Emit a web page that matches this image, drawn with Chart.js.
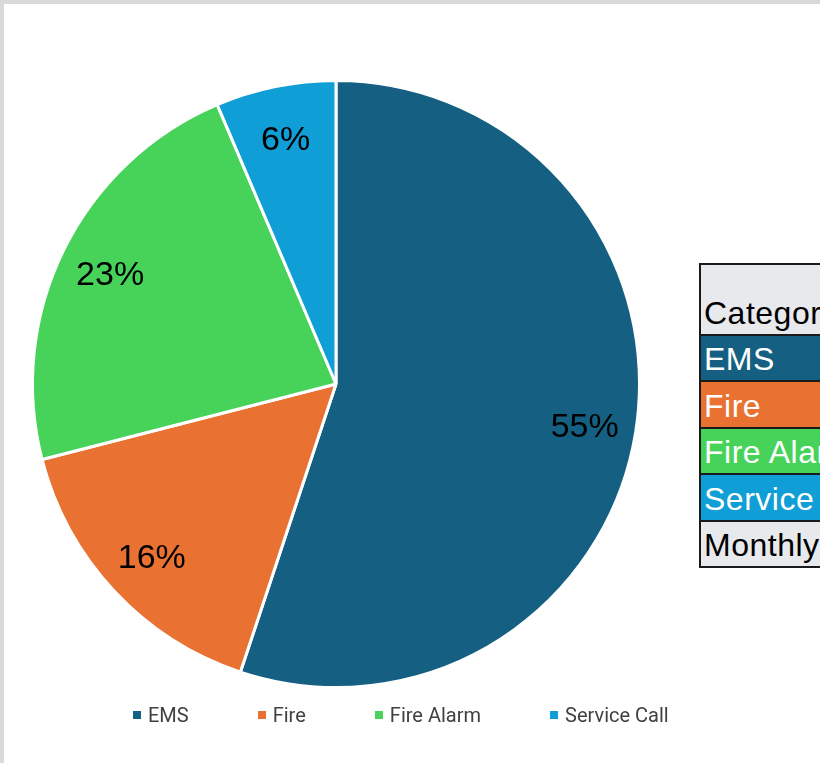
<!DOCTYPE html>
<html>
<head>
<meta charset="utf-8">
<script src="https://cdn.jsdelivr.net/npm/chart.js@4/dist/chart.umd.min.js"></script>
<style>
  html, body { margin: 0; padding: 0; width: 820px; height: 763px; overflow: hidden; background: #d9d9d9; }
  #sheet { position: absolute; left: 4px; top: 4px; width: 830px; height: 770px; background: #fff; }
  #wrap { position: absolute; left: 0; top: 0; width: 816px; height: 759px; }
  #legend { position: absolute; left: 129px; top: 699px; display: flex; gap: 69px;
    font-family: 'Roboto', sans-serif; font-size: 20px; color: #404040; }
  #legend .item { display: flex; align-items: center; }
  #legend .box { width: 8px; height: 8px; margin-right: 7px; }
  #tbl { position: absolute; left: 695px; top: 259px; border-collapse: collapse; border: 2px solid #1a1a1a;
    font-family: 'Liberation Sans', Arial, sans-serif; font-size: 32px; letter-spacing: 0.5px; white-space: nowrap; }
  #tbl td { border: 2px solid #1a1a1a; padding: 0 4px 4px 3px; vertical-align: bottom; height: 40.4px; width: 300px; line-height: 34px; }
  #tbl tr.head td { height: 65px; background: #e7e9ec; color: #000; }
  #tbl tr.foot td { background: #e7e9ec; color: #000; }
</style>
</head>
<body>
<div id="sheet">
  <div id="wrap"><canvas id="pie"></canvas></div>
  <div id="legend"></div>
  <table id="tbl"></table>
</div>
<script>
// Call type shares (percent of total)
const categories = ['EMS', 'Fire', 'Fire Alarm', 'Service Call'];
const shares = [55.1, 15.9, 22.6, 6.4];
const colors = ['#156082', '#E97132', '#47D35A', '#0F9ED5'];
const tableHeader = 'Category';
const tableFooter = 'Monthly Total';

// percent labels inside the slices
const pctLabels = {
  id: 'pctLabels',
  afterDatasetsDraw(chart) {
    const ctx = chart.ctx;
    const data = chart.data.datasets[0].data;
    const total = data.reduce((a, b) => a + b, 0);
    chart.getDatasetMeta(0).data.forEach((arc, i) => {
      const p = arc.getProps(['x', 'y', 'startAngle', 'endAngle', 'outerRadius'], true);
      const mid = (p.startAngle + p.endAngle) / 2;
      const r = p.outerRadius * 0.83;
      ctx.save();
      ctx.font = '34px "Liberation Sans", Arial, sans-serif';
      ctx.fillStyle = '#000';
      ctx.textAlign = 'center';
      ctx.textBaseline = 'middle';
      ctx.fillText(Math.round(data[i] / total * 100) + '%', p.x + Math.cos(mid) * r, p.y + Math.sin(mid) * r + 3);
      ctx.restore();
    });
  }
};

new Chart(document.getElementById('pie').getContext('2d'), {
  type: 'pie',
  data: {
    labels: categories,
    datasets: [{ data: shares, backgroundColor: colors, borderColor: '#fff', borderWidth: 3 }]
  },
  options: {
    responsive: true,
    maintainAspectRatio: false,
    animation: false,
    layout: { padding: { left: 27, top: 75, right: 179, bottom: 74 } },
    plugins: { legend: { display: false }, tooltip: { enabled: false } }
  },
  plugins: [pctLabels]
});

// legend along the bottom
const legend = document.getElementById('legend');
categories.forEach((c, i) => {
  const item = document.createElement('div');
  item.className = 'item';
  item.innerHTML = '<span class="box" style="background:' + colors[i] + '"></span><span>' + c + '</span>';
  legend.appendChild(item);
});

// data table beside the chart (cut off by the window)
const tbl = document.getElementById('tbl');
let rows = '<tr class="head"><td>' + tableHeader + '</td></tr>';
categories.forEach((c, i) => {
  rows += '<tr><td style="background:' + colors[i] + ';color:#fff">' + c + '</td></tr>';
});
rows += '<tr class="foot"><td>' + tableFooter + '</td></tr>';
tbl.innerHTML = rows;
</script>
</body>
</html>
